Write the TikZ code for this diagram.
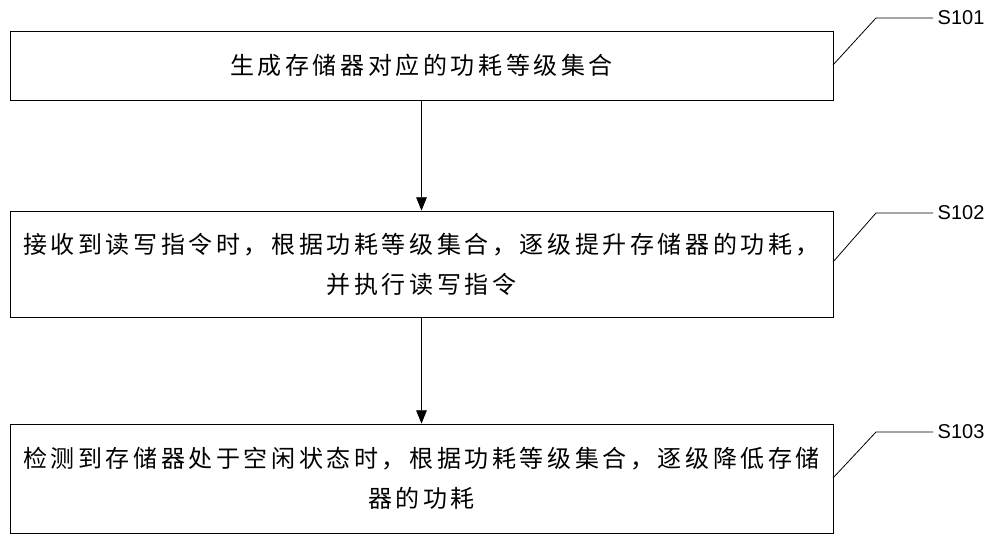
\documentclass[tikz,border=0pt]{standalone}
\usepackage{fontspec}
\setmainfont{Liberation Sans}
\newfontfamily\cjk[LetterSpace=15]{Noto Sans CJK SC}
\usetikzlibrary{arrows.meta}
\begin{document}
\begin{tikzpicture}[x=0.75pt,y=-0.75pt,
  stepbox/.style={draw,line width=0.6pt,minimum width=823*0.75pt,align=center,font=\cjk\fontsize{18}{30}\selectfont,inner sep=0pt},
  lab/.style={font=\fontsize{15}{17}\selectfont,anchor=west},
  arr/.style={-{Triangle[length=10pt,width=8pt]},line width=0.6pt},
  lead/.style={line width=0.6pt}]
\useasboundingbox (0,0) rectangle (1000,541);
\node[stepbox,minimum height=69*0.75pt] (b1) at (421.5,65.5) {生成存储器对应的功耗等级集合};
\node[stepbox,minimum height=106*0.75pt] (b2) at (421.5,264) {接收到读写指令时，根据功耗等级集合，逐级提升存储器的功耗，\\并执行读写指令};
\node[stepbox,minimum height=109*0.75pt] (b3) at (421.5,478.5) {检测到存储器处于空闲状态时，根据功耗等级集合，逐级降低存储\\器的功耗};
\draw[arr] (b1) -- (b2);
\draw[arr] (b2) -- (b3);
\coordinate (c1a) at (833,65); \coordinate (c1b) at (876,18); \coordinate (c1c) at (933,18);
\coordinate (c2a) at (833,262); \coordinate (c2b) at (876,213); \coordinate (c2c) at (933,213);
\coordinate (c3a) at (833,478); \coordinate (c3b) at (876,432); \coordinate (c3c) at (933,432);
\draw[lead] (c1a) -- (c1b) -- (c1c);
\draw[lead] (c2a) -- (c2b) -- (c2c);
\draw[lead] (c3a) -- (c3b) -- (c3c);
\node[lab] (l1) at (c1c) {S101};
\node[lab] (l2) at (c2c) {S102};
\node[lab] (l3) at (c3c) {S103};
\end{tikzpicture}
\end{document}
